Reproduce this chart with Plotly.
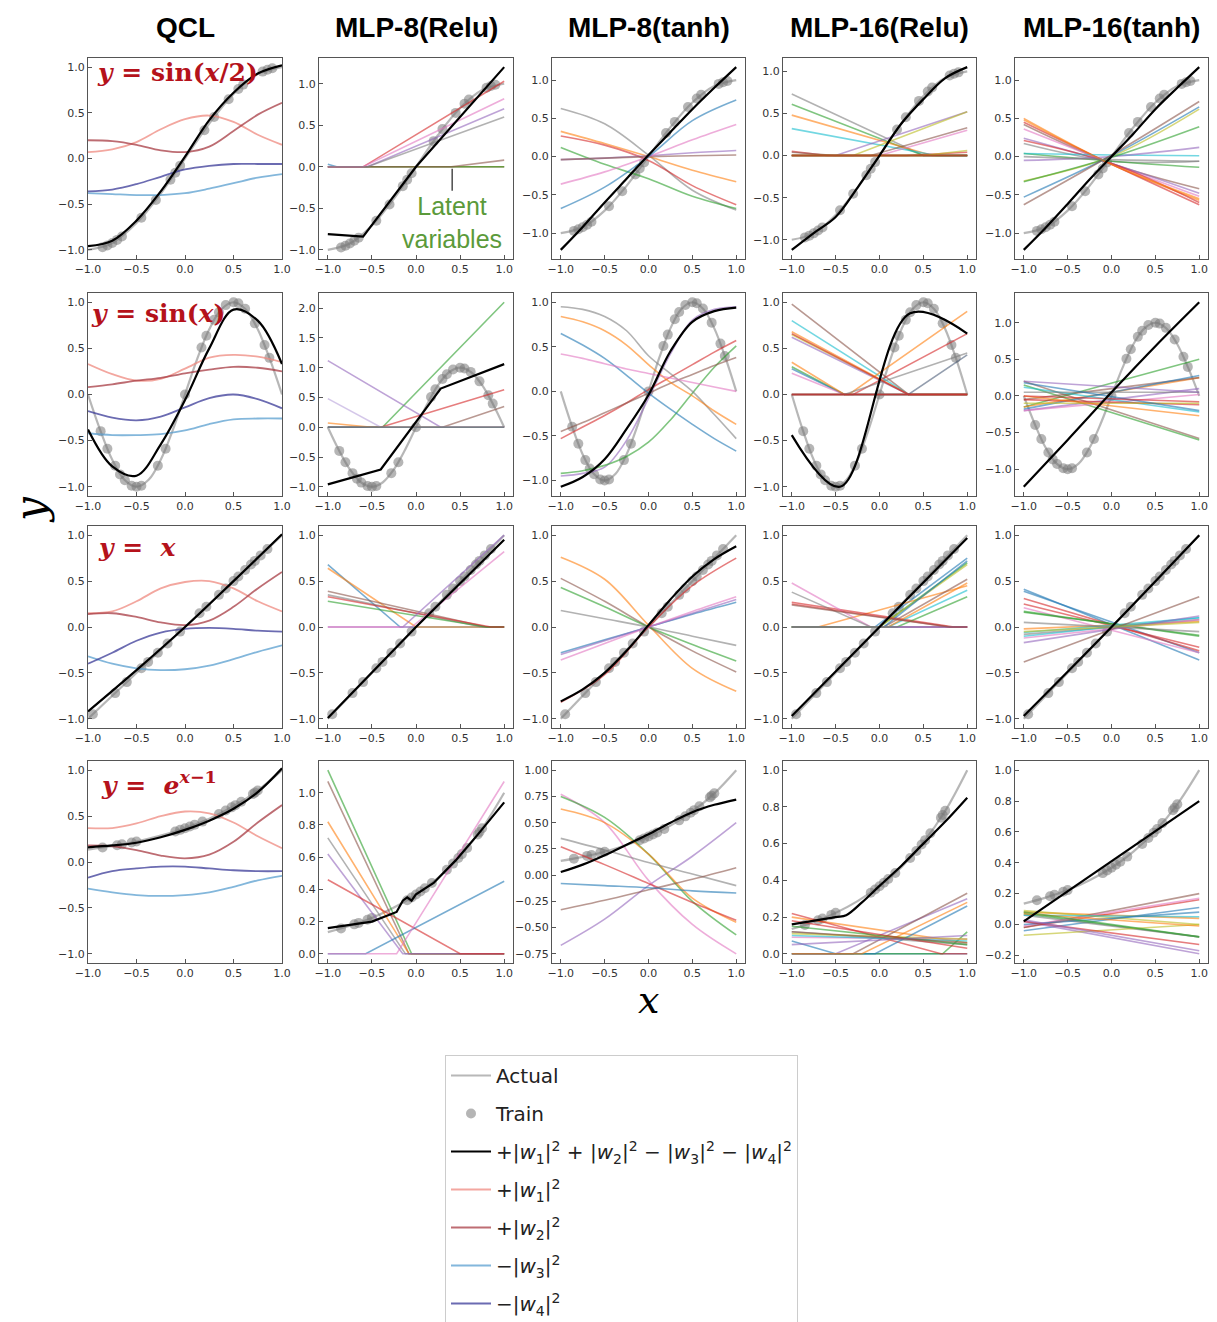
import plotly.graph_objects as go

# ---------------- data ----------------
X9 = [-1.0, -0.75, -0.5, -0.25, 0.0, 0.25, 0.5, 0.75, 1.0]
X5 = [-1.0, -0.5, 0.0, 0.5, 1.0]
X3 = [-1.0, 0.0, 1.0]
X2 = [-1.0, 1.0]
X17 = [-1.0, -0.875, -0.75, -0.625, -0.5, -0.375, -0.25, -0.125, 0.0,
       0.125, 0.25, 0.375, 0.5, 0.625, 0.75, 0.875, 1.0]

COLUMN_TITLES = ["QCL", "MLP-8(Relu)", "MLP-8(tanh)", "MLP-16(Relu)", "MLP-16(tanh)"]
ROW_EQUATIONS = ["<b><i>y</i> = sin(<i>x</i>/2)</b>", "<b><i>y</i> = sin(<i>x</i>)</b>",
                 "<b><i>y</i> =  <i>x</i></b>", "<b><i>y</i> =  <i>e</i><sup><i>x</i>−1</sup></b>"]

# actual functions (gray)
ACT1_Y = [-1.0, -0.924, -0.707, -0.383, 0.0, 0.383, 0.707, 0.924, 1.0]
ACT2_Y = [0.0, -0.383, -0.707, -0.924, -1.0, -0.924, -0.707, -0.383, 0.0,
          0.383, 0.707, 0.924, 1.0, 0.924, 0.707, 0.383, 0.0]
ACT3_Y = [-1.0, 1.0]
ACT4_Y = [0.135, 0.174, 0.223, 0.287, 0.368, 0.472, 0.607, 0.779, 1.0]

# training points
TR1_X = [-0.85, -0.8, -0.75, -0.7, -0.65, -0.45, -0.3, -0.15, -0.1, -0.05, 0.2, 0.3, 0.45, 0.55, 0.6, 0.8, 0.85, 0.9]
TR1_Y = [-0.972, -0.951, -0.924, -0.891, -0.853, -0.649, -0.454, -0.233, -0.156, -0.078, 0.309, 0.454, 0.649, 0.76, 0.809, 0.951, 0.972, 0.988]
TR2_X = [-0.87, -0.8, -0.72, -0.67, -0.62, -0.55, -0.5, -0.45, -0.28, -0.2, 0.0, 0.17, 0.22, 0.3, 0.35, 0.42, 0.5, 0.55, 0.62, 0.72, 0.82, 0.87]
TR2_Y = [-0.397, -0.588, -0.771, -0.866, -0.93, -0.988, -1.0, -0.988, -0.771, -0.588, 0.0, 0.509, 0.637, 0.809, 0.891, 0.969, 1.0, 0.988, 0.93, 0.771, 0.536, 0.397]
TR3_X = [-0.95, -0.72, -0.6, -0.45, -0.38, -0.28, -0.18, -0.05, 0.15, 0.22, 0.35, 0.42, 0.5, 0.55, 0.62, 0.68, 0.72, 0.78, 0.85]
TR3_Y = [-0.95, -0.72, -0.6, -0.45, -0.38, -0.28, -0.18, -0.05, 0.15, 0.22, 0.35, 0.42, 0.5, 0.55, 0.62, 0.68, 0.72, 0.78, 0.85]
TR4_X = [-0.85, -0.7, -0.65, -0.55, -0.5, -0.1, -0.05, 0.0, 0.05, 0.1, 0.18, 0.35, 0.42, 0.48, 0.52, 0.58, 0.7, 0.72, 0.75]
TR4_Y = [0.157, 0.183, 0.192, 0.212, 0.223, 0.333, 0.35, 0.368, 0.387, 0.407, 0.44, 0.522, 0.56, 0.595, 0.619, 0.657, 0.741, 0.756, 0.779]

# fitted model output (black): (x, y)
B11 = (X9, [-0.96, -0.90, -0.68, -0.36, 0.02, 0.42, 0.72, 0.93, 1.02])
B12 = ([-1.0, -0.6, 0.0, 1.0], [-0.81, -0.84, 0.0, 1.2])
B13 = (X9, [-1.22, -0.92, -0.6, -0.29, 0.02, 0.32, 0.62, 0.9, 1.17])
B14 = (X9, [-1.12, -0.92, -0.73, -0.38, 0.0, 0.38, 0.67, 0.92, 1.05])
B15 = (X9, [-1.22, -0.93, -0.62, -0.3, 0.0, 0.3, 0.62, 0.9, 1.17])
B21 = (X9, [-0.38, -0.78, -0.88, -0.54, -0.06, 0.5, 0.92, 0.8, 0.33])
B22 = ([-1.0, -0.4, 0.28, 1.0], [-0.96, -0.71, 0.65, 1.06])
B23 = (X9, [-1.07, -0.96, -0.76, -0.42, -0.04, 0.45, 0.78, 0.9, 0.94])
B24 = ([-1.0, -0.45, 0.35, 1.0], [-0.44, -1.0, 0.88, 0.66])
B25 = (X5, [-1.24, -0.6, 0.05, 0.68, 1.28])
B31 = (X5, [-0.92, -0.47, 0.0, 0.5, 1.01])
B32 = (X3, [-0.99, 0.0, 0.95])
B33 = (X9, [-0.81, -0.68, -0.5, -0.26, 0.02, 0.3, 0.55, 0.74, 0.88])
B34 = (X3, [-0.97, 0.0, 0.97])
B35 = (X3, [-0.97, 0.0, 1.0])
B41 = (X9, [0.16, 0.18, 0.21, 0.27, 0.35, 0.45, 0.58, 0.76, 1.02])
B42 = ([-1.0, -0.5, -0.22, -0.15, -0.1, -0.05, 0.0, 0.2, 0.45, 0.7, 1.0],
       [0.16, 0.2, 0.26, 0.33, 0.35, 0.33, 0.37, 0.44, 0.58, 0.74, 0.94])
B43 = (X9, [0.03, 0.1, 0.19, 0.29, 0.39, 0.5, 0.6, 0.67, 0.72])
B44 = ([-1.0, -0.5, -0.38, -0.2, 0.0, 0.25, 0.5, 0.75, 1.0],
       [0.16, 0.2, 0.21, 0.28, 0.37, 0.48, 0.6, 0.72, 0.85])
B45 = (X2, [0.02, 0.8])

# QCL latent variables on X9: +|w1|^2, +|w2|^2, -|w3|^2, -|w4|^2
Q1_W = [[0.07, 0.10, 0.18, 0.32, 0.43, 0.47, 0.40, 0.26, 0.15],
        [0.20, 0.19, 0.15, 0.09, 0.07, 0.13, 0.30, 0.48, 0.61],
        [-0.38, -0.39, -0.40, -0.40, -0.38, -0.33, -0.27, -0.21, -0.17],
        [-0.36, -0.34, -0.28, -0.20, -0.12, -0.08, -0.06, -0.06, -0.06]]
Q2_W = [[0.33, 0.22, 0.15, 0.17, 0.28, 0.40, 0.43, 0.41, 0.35],
        [0.08, 0.11, 0.15, 0.18, 0.23, 0.27, 0.30, 0.29, 0.25],
        [-0.42, -0.44, -0.44, -0.43, -0.39, -0.32, -0.27, -0.26, -0.26],
        [-0.18, -0.25, -0.28, -0.24, -0.14, -0.04, 0.0, -0.05, -0.15]]
Q3_W = [[0.15, 0.17, 0.28, 0.42, 0.49, 0.50, 0.42, 0.28, 0.17],
        [0.14, 0.15, 0.11, 0.05, 0.02, 0.07, 0.22, 0.42, 0.60],
        [-0.32, -0.40, -0.45, -0.47, -0.46, -0.42, -0.35, -0.27, -0.20],
        [-0.40, -0.28, -0.15, -0.06, -0.02, -0.01, -0.02, -0.04, -0.05]]
Q4_W = [[0.37, 0.37, 0.42, 0.50, 0.55, 0.53, 0.43, 0.28, 0.15],
        [0.18, 0.17, 0.13, 0.07, 0.04, 0.08, 0.22, 0.43, 0.62],
        [-0.29, -0.33, -0.36, -0.37, -0.36, -0.33, -0.27, -0.20, -0.15],
        [-0.17, -0.10, -0.07, -0.05, -0.05, -0.07, -0.09, -0.10, -0.10]]

# MLP latent variables: (colour, x, y)
L12 = [("blue", [-1.0, -0.9, 1.0], [0.03, 0.0, 0.0]), ("orange", X2, [0.0, 0.0]),
       ("green", X2, [0.0, 0.0]), ("red", [-1.0, -0.6, 1.0], [0.0, 0.0, 1.03]),
       ("purple", [-1.0, -0.55, 1.0], [0.0, 0.0, 0.7]), ("brown", [-1.0, 0.4, 1.0], [0.0, 0.0, 0.08]),
       ("pink", [-1.0, -0.6, 1.0], [0.0, 0.0, 0.82]), ("gray", [-1.0, -0.55, 1.0], [0.0, 0.0, 0.6])]
L13 = [("gray", X5, [0.63, 0.43, 0.02, -0.44, -0.70]), ("orange", X5, [0.33, 0.17, 0.0, -0.18, -0.33]),
       ("red", X5, [0.27, 0.15, -0.05, -0.38, -0.63]), ("green", X5, [0.12, -0.1, -0.29, -0.52, -0.68]),
       ("purple", X5, [-0.04, -0.02, 0.01, 0.05, 0.08]), ("brown", X5, [-0.04, -0.02, 0.0, 0.01, 0.02]),
       ("pink", X5, [-0.36, -0.2, 0.0, 0.22, 0.42]), ("blue", X5, [-0.68, -0.4, 0.0, 0.47, 0.74])]
L14 = [("gray", [-1.0, 0.5, 1.0], [0.73, 0.0, 0.0]), ("green", [-1.0, 0.5, 1.0], [0.61, 0.0, 0.0]),
       ("orange", [-1.0, 0.6, 1.0], [0.48, 0.0, 0.0]), ("cyan", [-1.0, 0.65, 1.0], [0.32, 0.0, 0.0]),
       ("purple", [-1.0, -0.5, 1.0], [0.0, 0.0, 0.52]), ("olive", [-1.0, -0.3, 1.0], [0.0, 0.0, 0.52]),
       ("brown", [-1.0, -0.1, 1.0], [0.0, 0.0, 0.33]), ("pink", [-1.0, 0.0, 1.0], [0.0, 0.0, 0.3]),
       ("red", [-1.0, -0.6, 1.0], [0.05, 0.0, 0.0]), ("blue", X2, [0.0, 0.0]),
       ("brown", [-1.0, -0.5, 1.0], [0.04, 0.0, 0.0]), ("red", [-1.0, 0.3, 1.0], [0.0, 0.0, 0.04]),
       ("olive", [-1.0, 0.5, 1.0], [0.0, 0.0, 0.06]), ("orange", X2, [0.0, 0.0]),
       ("green", X2, [0.0, 0.0]), ("red", X2, [0.0, 0.0])]
L15 = [("orange", X3, [0.5, -0.1, -0.57]), ("red", X3, [0.45, -0.1, -0.63]),
       ("brown", X3, [0.42, -0.09, -0.42]), ("pink", X3, [0.36, -0.09, -0.52]),
       ("purple", X3, [0.24, -0.09, -0.48]), ("red", X3, [0.21, -0.09, -0.6]),
       ("gray", X3, [0.17, -0.06, -0.06]), ("green", X3, [0.04, -0.06, -0.14]),
       ("cyan", X3, [0.04, 0.02, 0.01]), ("purple", X3, [-0.05, 0.0, 0.12]),
       ("olive", X3, [-0.32, 0.0, 0.62]), ("green", X3, [-0.33, -0.01, 0.39]),
       ("blue", X3, [-0.53, 0.01, 0.65]), ("brown", X3, [-0.63, 0.02, 0.72]),
       ("orange", X3, [0.48, -0.1, -0.55]), ("gray", X3, [0.0, -0.04, -0.06])]

L22 = [("green", [-1.0, -0.38, 1.0], [0.0, 0.0, 2.1]), ("red", [-1.0, -0.4, 1.0], [0.0, 0.0, 0.63]),
       ("brown", [-1.0, 0.3, 1.0], [0.0, 0.0, 0.35]), ("purple", [-1.0, 0.28, 1.0], [1.12, 0.0, 0.0]),
       ("lavender", [-1.0, -0.4, 1.0], [0.48, 0.0, 0.0]), ("orange", [-1.0, -0.5, 1.0], [0.07, 0.0, 0.0]),
       ("blue", X2, [0.0, 0.0]), ("gray", X2, [0.0, 0.0])]
L23 = [("purple", X9, [-0.95, -0.92, -0.85, -0.55, -0.08, 0.42, 0.8, 0.92, 0.95]),
       ("green", X9, [-0.92, -0.89, -0.83, -0.73, -0.57, -0.32, -0.02, 0.27, 0.51]),
       ("red", X9, [-0.53, -0.4, -0.27, -0.13, 0.02, 0.16, 0.3, 0.44, 0.57]),
       ("brown", X9, [-0.45, -0.35, -0.24, -0.13, -0.02, 0.09, 0.19, 0.29, 0.38]),
       ("gray", X9, [0.95, 0.92, 0.84, 0.68, 0.4, 0.2, 0.0, -0.26, -0.53]),
       ("orange", X9, [0.84, 0.78, 0.68, 0.52, 0.3, 0.1, -0.05, -0.22, -0.37]),
       ("blue", X9, [0.65, 0.52, 0.37, 0.18, -0.02, -0.2, -0.37, -0.53, -0.67]),
       ("pink", X9, [0.42, 0.37, 0.31, 0.25, 0.2, 0.15, 0.1, 0.05, 0.0])]
L24 = [("brown", [-1.0, 0.33, 1.0], [0.98, 0.0, 0.0]), ("cyan", [-1.0, 0.33, 1.0], [0.8, 0.0, 0.0]),
       ("olive", [-1.0, 0.33, 1.0], [0.65, 0.0, 0.0]), ("orange", [-1.0, 0.33, 1.0], [0.68, 0.0, 0.0]),
       ("purple", [-1.0, 0.33, 1.0], [0.62, 0.0, 0.0]), ("green", [-1.0, -0.4, 1.0], [0.3, 0.0, 0.0]),
       ("blue", [-1.0, -0.4, 1.0], [0.28, 0.0, 0.0]), ("pink", [-1.0, -0.4, 1.0], [0.23, 0.0, 0.0]),
       ("orange", [-1.0, -0.4, 1.0], [0.35, 0.0, 0.0]), ("orange", [-1.0, -0.35, 1.0], [0.0, 0.0, 0.9]),
       ("red", [-1.0, -0.3, 1.0], [0.0, 0.0, 0.66]), ("gray", [-1.0, -0.4, 1.0], [0.0, 0.0, 0.45]),
       ("slate", [-1.0, 0.33, 1.0], [0.0, 0.0, 0.43]), ("red", [-1.0, 0.33, 1.0], [0.66, 0.0, 0.0]),
       ("brown", X2, [0.0, 0.0]), ("red", X2, [0.0, 0.0])]
L25 = [("brown", X2, [0.2, -0.58]), ("green", X2, [0.15, -0.6]), ("green", X2, [-0.15, 0.5]),
       ("orange", X2, [-0.15, 0.25]), ("brown", X2, [-0.05, 0.25]), ("blue", X2, [-0.18, 0.28]),
       ("purple", X2, [-0.2, 0.1]), ("pink", X2, [-0.2, 0.02]), ("cyan", X2, [0.12, -0.22]),
       ("gray", X2, [0.05, 0.05]), ("red", X2, [-0.05, -0.12]), ("olive", X2, [-0.1, -0.1]),
       ("orange", X2, [0.0, -0.27]), ("purple", X2, [0.2, 0.05]), ("blue", X2, [0.18, -0.2]),
       ("red", X2, [0.0, -0.08])]

L32 = [("blue", [-1.0, -0.18, 1.0], [0.68, 0.0, 0.0]), ("orange", [-1.0, 0.0, 1.0], [0.64, 0.0, 0.0]),
       ("brown", [-1.0, 0.8, 1.0], [0.39, 0.0, 0.0]), ("gray", [-1.0, 0.75, 1.0], [0.35, 0.0, 0.0]),
       ("green", [-1.0, 0.8, 1.0], [0.28, 0.0, 0.0]), ("red", [-1.0, 0.85, 1.0], [0.33, 0.0, 0.0]),
       ("purple", [-1.0, -0.15, 1.0], [0.0, 0.0, 1.0]), ("pink", [-1.0, -0.05, 1.0], [0.0, 0.0, 0.82])]
L33 = [("orange", X5, [0.76, 0.52, 0.02, -0.45, -0.7]), ("brown", X5, [0.53, 0.28, 0.0, -0.26, -0.49]),
       ("green", X5, [0.43, 0.22, 0.0, -0.19, -0.37]), ("gray", X5, [0.18, 0.09, 0.0, -0.1, -0.2]),
       ("blue", X5, [-0.28, -0.14, 0.0, 0.14, 0.27]), ("purple", X5, [-0.3, -0.15, 0.0, 0.15, 0.3]),
       ("pink", X5, [-0.36, -0.18, 0.0, 0.17, 0.33]), ("red", X5, [-0.82, -0.52, 0.0, 0.45, 0.75])]
L34 = [("blue", [-1.0, -0.05, 1.0], [0.0, 0.0, 0.75]), ("orange", [-1.0, -0.7, 1.0], [0.0, 0.0, 0.45]),
       ("green", [-1.0, 0.0, 1.0], [0.0, 0.0, 0.7]), ("red", [-1.0, 0.85, 1.0], [0.27, 0.0, 0.0]),
       ("purple", X2, [0.0, 0.0]), ("brown", [-1.0, 0.05, 1.0], [0.0, 0.0, 0.52]),
       ("pink", [-1.0, -0.1, 1.0], [0.48, 0.0, 0.0]), ("gray", [-1.0, -0.1, 1.0], [0.38, 0.0, 0.0]),
       ("olive", [-1.0, 0.0, 1.0], [0.0, 0.0, 0.68]), ("cyan", [-1.0, 0.1, 1.0], [0.0, 0.0, 0.4]),
       ("blue", [-1.0, 0.05, 1.0], [0.0, 0.0, 0.72]), ("orange", [-1.0, 0.1, 1.0], [0.0, 0.0, 0.48]),
       ("green", [-1.0, 0.2, 1.0], [0.0, 0.0, 0.33]), ("red", [-1.0, 0.8, 1.0], [0.25, 0.0, 0.0]),
       ("purple", X2, [0.0, 0.0]), ("brown", [-1.0, 0.8, 1.0], [0.24, 0.0, 0.0])]
L35 = [("blue", X2, [0.41, -0.36]), ("blue", X2, [0.39, -0.28]), ("red", X2, [0.31, -0.26]),
       ("red", X2, [0.25, -0.22]), ("pink", X2, [0.21, -0.28]), ("green", X2, [0.17, -0.1]),
       ("green", X2, [0.16, -0.09]), ("orange", X2, [-0.02, 0.06]), ("cyan", X2, [-0.06, 0.1]),
       ("gray", X2, [-0.08, 0.08]), ("cyan", X2, [-0.1, 0.1]), ("pink", X2, [-0.12, 0.08]),
       ("purple", X2, [-0.17, 0.12]), ("brown", X2, [-0.38, 0.33]), ("olive", X2, [-0.05, 0.05]),
       ("gray", X2, [0.05, -0.05])]

L42 = [("green", [-1.0, -0.05, 1.0], [1.14, 0.0, 0.0]), ("brown", [-1.0, -0.08, 1.0], [1.07, 0.0, 0.0]),
       ("orange", [-1.0, -0.08, 1.0], [0.82, 0.0, 0.0]), ("gray", [-1.0, -0.12, 1.0], [0.72, 0.0, 0.0]),
       ("purple", [-1.0, -0.15, 1.0], [0.62, 0.0, 0.0]), ("red", [-1.0, 0.5, 1.0], [0.46, 0.0, 0.0]),
       ("blue", [-1.0, -0.57, 1.0], [0.0, 0.0, 0.45]), ("pink", [-1.0, -0.22, 1.0], [0.0, 0.0, 1.07])]
L43 = [("purple", X5, [-0.67, -0.42, -0.1, 0.18, 0.5]), ("pink", X5, [0.77, 0.5, -0.05, -0.47, -0.75]),
       ("green", X5, [0.75, 0.55, 0.2, -0.25, -0.57]), ("orange", X5, [0.63, 0.5, 0.2, -0.22, -0.45]),
       ("gray", X5, [0.35, 0.24, 0.12, 0.01, -0.1]), ("red", X5, [0.27, 0.1, -0.08, -0.26, -0.43]),
       ("brown", X5, [-0.33, -0.24, -0.14, -0.04, 0.07]), ("blue", X5, [-0.08, -0.1, -0.12, -0.15, -0.17])]
L44 = [("blue", [-1.0, -0.5, 1.0], [0.07, 0.0, 0.0]), ("orange", X2, [0.2, 0.06]),
       ("green", [-1.0, 0.72, 1.0], [0.0, 0.0, 0.12]), ("red", [-1.0, 0.7, 1.0], [0.22, 0.0, 0.0]),
       ("purple", [-1.0, -0.5, 1.0], [0.0, 0.0, 0.3]), ("brown", [-1.0, -0.3, 1.0], [0.0, 0.0, 0.33]),
       ("pink", X2, [0.09, 0.08]), ("gray", X2, [0.12, 0.05]), ("olive", X2, [0.11, 0.08]),
       ("cyan", X2, [0.1, 0.07]), ("blue", [-1.0, -0.05, 1.0], [0.0, 0.0, 0.26]),
       ("orange", [-1.0, -0.2, 1.0], [0.0, 0.0, 0.28]), ("green", X2, [0.15, 0.05]),
       ("red", X2, [0.18, 0.03]), ("purple", X2, [0.05, 0.1]), ("brown", X2, [0.12, 0.06])]
L45 = [("blue", X2, [-0.04, 0.11]), ("orange", X2, [0.08, 0.04]), ("green", X2, [0.07, -0.08]),
       ("red", X2, [-0.02, 0.16]), ("purple", X2, [0.02, -0.19]), ("brown", X2, [-0.02, 0.2]),
       ("pink", X2, [-0.01, 0.17]), ("gray", X2, [0.06, -0.08]), ("olive", X2, [0.09, 0.0]),
       ("olive", X2, [-0.07, 0.0]), ("cyan", X2, [0.06, 0.05]), ("blue", X2, [0.0, 0.08]),
       ("orange", X2, [0.07, -0.01]), ("green", X2, [0.08, -0.08]), ("red", X2, [0.02, -0.13]),
       ("purple", X2, [0.03, -0.17])]

Y_DTICK = [[0.5, 0.5, 0.5, 0.5, 0.5], [0.5, 0.5, 0.5, 0.5, 0.5],
           [0.5, 0.5, 0.5, 0.5, 0.5], [0.5, 0.2, 0.25, 0.2, 0.2]]
X_TICKS = [-1.0, -0.5, 0.0, 0.5, 1.0]

LEGEND_NAMES = ["Actual", "Train",
                "+|<i>w</i><sub>1</sub>|<sup>2</sup> + |<i>w</i><sub>2</sub>|<sup>2</sup> − |<i>w</i><sub>3</sub>|<sup>2</sup> − |<i>w</i><sub>4</sub>|<sup>2</sup>",
                "+|<i>w</i><sub>1</sub>|<sup>2</sup>", "+|<i>w</i><sub>2</sub>|<sup>2</sup>",
                "−|<i>w</i><sub>3</sub>|<sup>2</sup>", "−|<i>w</i><sub>4</sub>|<sup>2</sup>"]

# ---------------- style ----------------
TAB = {"blue": "#1f77b4", "orange": "#ff7f0e", "green": "#2ca02c", "red": "#d62728",
       "purple": "#9467bd", "brown": "#8c564b", "pink": "#e377c2", "gray": "#7f7f7f",
       "olive": "#bcbd22", "cyan": "#17becf", "lavender": "#b9a3dc", "slate": "#4e5f7a"}
W_COLORS = ["#ef8a80", "#a83c44", "#5a9fd0", "#3a3a98"]
EQ_COLOR = "#b5121b"
W, H = 1217, 1322
COL_PX = [(88, 282), (319, 513), (552, 745), (783, 976), (1015, 1208)]
ROW_PX = [(58, 259), (293, 496), (526, 728), (761, 963)]

ACTUAL = [(X9, ACT1_Y), (X17, ACT2_Y), (X2, ACT3_Y), (X9, ACT4_Y)]
TRAIN = [(TR1_X, TR1_Y), (TR2_X, TR2_Y), (TR3_X, TR3_Y), (TR4_X, TR4_Y)]
BLACK = [[B11, B12, B13, B14, B15], [B21, B22, B23, B24, B25],
         [B31, B32, B33, B34, B35], [B41, B42, B43, B44, B45]]
QW = [Q1_W, Q2_W, Q3_W, Q4_W]
LAT = [[L12, L13, L14, L15], [L22, L23, L24, L25], [L32, L33, L34, L35], [L42, L43, L44, L45]]
BLACK_SHAPE = ["spline", "linear", "spline", "spline", "spline"]

fig = go.Figure()


def names(k):
    return ("x" if k == 1 else f"x{k}"), ("y" if k == 1 else f"y{k}")


def line(k, xs, ys, color, width, opacity, shape, legend=None, rank=None):
    xa, ya = names(k)
    fig.add_trace(go.Scatter(
        x=xs, y=ys, mode="lines", xaxis=xa, yaxis=ya, opacity=opacity,
        line=dict(color=color, width=width, shape=shape, smoothing=1.0),
        hoverinfo="skip", showlegend=legend is not None, name=legend or "",
        legendgroup=legend or None, legendrank=rank or 1000))


for r in range(4):
    for c in range(5):
        k = r * 5 + c + 1
        xa, ya = names(k)
        first = (k == 1)
        ys_all = []
        ax_, ay_ = ACTUAL[r]
        line(k, ax_, ay_, "#9a9a9a", 2.2, 0.7, "spline",
             legend=LEGEND_NAMES[0] if first else None, rank=1)
        ys_all += ay_
        tx, ty = TRAIN[r]
        fig.add_trace(go.Scatter(
            x=tx, y=ty, mode="markers", xaxis=xa, yaxis=ya,
            marker=dict(color="rgba(120,120,120,0.55)", size=10, line=dict(width=0)),
            hoverinfo="skip", showlegend=first, name=LEGEND_NAMES[1],
            legendgroup=LEGEND_NAMES[1] if first else None, legendrank=2))
        ys_all += ty
        if c == 0:
            for i, wy in enumerate(QW[r]):
                line(k, X9, wy, W_COLORS[i], 1.8, 0.75, "spline",
                     legend=LEGEND_NAMES[3 + i] if first else None, rank=4 + i)
                ys_all += wy
        else:
            shape = "spline" if c in (2, 4) else "linear"
            for col, lx, ly in LAT[r][c - 1]:
                line(k, lx, ly, TAB[col], 1.6, 0.6, shape)
                ys_all += ly
        bx, by = BLACK[r][c]
        line(k, bx, by, "black", 2.2, 1.0, BLACK_SHAPE[c],
             legend=LEGEND_NAMES[2] if first else None, rank=3)
        ys_all += by

        if c == 0:
            yr = [-1.1, 1.1]
            xr = [-1.0, 1.0]
        else:
            lo, hi = min(ys_all), max(ys_all)
            pad = 0.05 * (hi - lo)
            yr = [lo - pad, hi + pad]
            xr = [-1.1, 1.1]

        x0, x1 = COL_PX[c]
        y0, y1 = ROW_PX[r]
        common = dict(showline=True, mirror=True, linecolor="#555555", linewidth=1.3,
                      ticks="inside", ticklen=4, tickwidth=1, tickcolor="#555555",
                      showgrid=False, zeroline=False,
                      tickfont=dict(family="DejaVu Sans", size=11, color="#333333"))
        fig.update_layout({
            ("xaxis" if k == 1 else f"xaxis{k}"): dict(
                domain=[x0 / W, x1 / W], anchor=ya, range=xr,
                tickmode="array", tickvals=X_TICKS, tickformat=".1f", **common),
            ("yaxis" if k == 1 else f"yaxis{k}"): dict(
                domain=[1 - y1 / H, 1 - y0 / H], anchor=xa, range=yr,
                tick0=0, dtick=Y_DTICK[r][c],
                tickformat=".2f" if Y_DTICK[r][c] == 0.25 else ".1f", **common),
        })

annotations = []
for c, title in enumerate(COLUMN_TITLES):
    x0, x1 = COL_PX[c]
    annotations.append(dict(text=f"<b>{title}</b>", x=(x0 + x1) / 2 / W, y=1 - 28 / H,
                            xref="paper", yref="paper", xanchor="center", yanchor="middle",
                            showarrow=False,
                            font=dict(family="Liberation Sans", size=28, color="black")))
EQ_POS = [(95, 73), (89, 313), (96, 547), (99, 783)]
for r, eq in enumerate(ROW_EQUATIONS):
    px, py = EQ_POS[r]
    annotations.append(dict(text=eq, x=px / W, y=1 - py / H, xref="paper", yref="paper",
                            xanchor="left", yanchor="middle", showarrow=False,
                            font=dict(family="DejaVu Serif", size=25, color=EQ_COLOR)))
annotations.append(dict(text="Latent<br>variables", x=0.41, y=0.0, xref="x2", yref="y2",
                        showarrow=True, arrowhead=0, arrowwidth=1.2, arrowcolor="#222222",
                        ax=0, ay=56, standoff=2,
                        font=dict(family="Liberation Sans", size=25, color="#5b9a3a")))
annotations.append(dict(text="<i>y</i>", x=30 / W, y=1 - 510 / H, xref="paper", yref="paper",
                        xanchor="center", yanchor="middle", showarrow=False, textangle=-90,
                        font=dict(family="DejaVu Serif", size=42, color="black")))
annotations.append(dict(text="<i>x</i>", x=648 / W, y=1 - 1000 / H, xref="paper", yref="paper",
                        xanchor="center", yanchor="middle", showarrow=False,
                        font=dict(family="DejaVu Serif", size=38, color="black")))

fig.update_layout(
    width=W, height=H,
    margin=dict(l=0, r=0, t=0, b=0, autoexpand=False),
    paper_bgcolor="white", plot_bgcolor="white",
    font=dict(family="DejaVu Sans", color="#222222"),
    annotations=annotations,
    showlegend=True,
    legend=dict(x=445 / W, y=1 - 1055 / H, xanchor="left", yanchor="top",
                bgcolor="white", bordercolor="#cccccc", borderwidth=1,
                font=dict(family="DejaVu Sans", size=20, color="#222222"),
                traceorder="grouped", tracegroupgap=9, itemwidth=40),
)

fig.write_html("out.html")
